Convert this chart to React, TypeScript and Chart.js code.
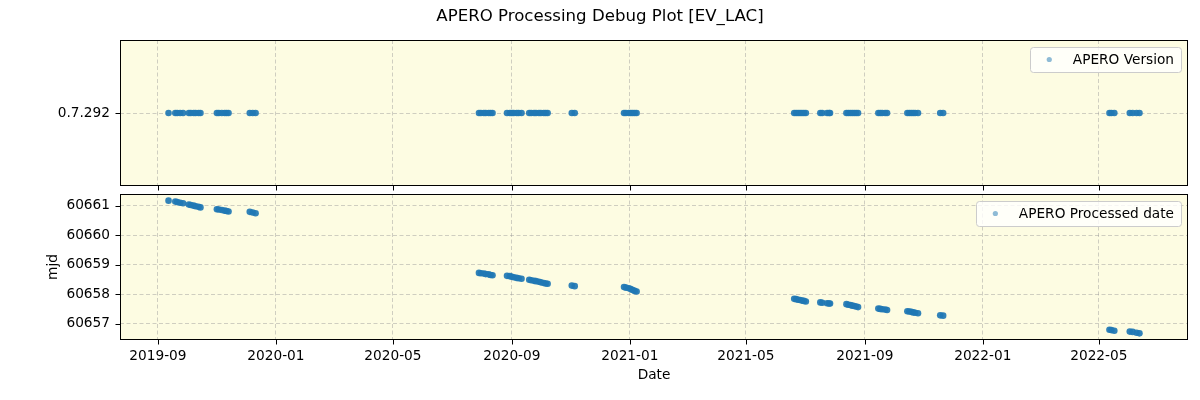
import React, { useEffect, useRef } from 'react';
import { Chart, registerables } from 'chart.js';

Chart.register(...registerables);

// ---------------- data ----------------
const obsDates = [
  '2019-09-12', '2019-09-19', '2019-09-21', '2019-09-24', '2019-09-27',
  '2019-10-03', '2019-10-05', '2019-10-08', '2019-10-10', '2019-10-13', '2019-10-15',
  '2019-11-01', '2019-11-03', '2019-11-06', '2019-11-09', '2019-11-11', '2019-11-13',
  '2019-12-05', '2019-12-08', '2019-12-11',
  '2020-07-29', '2020-07-31', '2020-08-03', '2020-08-05', '2020-08-08', '2020-08-10', '2020-08-12',
  '2020-08-27', '2020-08-30', '2020-09-01', '2020-09-03', '2020-09-06', '2020-09-08', '2020-09-11',
  '2020-09-19', '2020-09-21', '2020-09-24', '2020-09-26', '2020-09-29', '2020-10-01', '2020-10-04', '2020-10-06', '2020-10-08',
  '2020-11-02', '2020-11-05',
  '2020-12-26', '2020-12-28', '2020-12-31', '2021-01-02', '2021-01-04', '2021-01-06', '2021-01-08',
  '2021-06-20', '2021-06-22', '2021-06-24', '2021-06-26', '2021-06-28', '2021-06-30', '2021-07-02',
  '2021-07-17', '2021-07-19', '2021-07-24', '2021-07-26', '2021-07-27',
  '2021-08-13', '2021-08-15', '2021-08-17', '2021-08-19', '2021-08-21', '2021-08-23', '2021-08-25',
  '2021-09-15', '2021-09-17', '2021-09-19', '2021-09-22', '2021-09-24',
  '2021-10-15', '2021-10-17', '2021-10-19', '2021-10-21', '2021-10-23', '2021-10-26',
  '2021-11-18', '2021-11-21',
  '2022-05-12', '2022-05-14', '2022-05-17',
  '2022-06-02', '2022-06-05', '2022-06-09', '2022-06-12',
];

const mjdValues = [
  60661.17, 60661.14, 60661.12, 60661.10, 60661.08,
  60661.04, 60661.02, 60661.00, 60660.98, 60660.96, 60660.94,
  60660.88, 60660.87, 60660.85, 60660.83, 60660.82, 60660.80,
  60660.79, 60660.77, 60660.74,
  60658.72, 60658.71, 60658.70, 60658.68, 60658.67, 60658.65, 60658.64,
  60658.62, 60658.61, 60658.59, 60658.57, 60658.55, 60658.54, 60658.52,
  60658.49, 60658.47, 60658.45, 60658.44, 60658.42, 60658.40, 60658.38, 60658.36, 60658.35,
  60658.29, 60658.27,
  60658.24, 60658.22, 60658.20, 60658.17, 60658.14, 60658.11, 60658.09,
  60657.84, 60657.83, 60657.81, 60657.80, 60657.78, 60657.77, 60657.75,
  60657.72, 60657.71, 60657.69, 60657.68, 60657.68,
  60657.66, 60657.64, 60657.63, 60657.61, 60657.60, 60657.58, 60657.56,
  60657.51, 60657.50, 60657.49, 60657.48, 60657.46,
  60657.42, 60657.41, 60657.40, 60657.38, 60657.37, 60657.35,
  60657.28, 60657.27,
  60656.79, 60656.78, 60656.76,
  60656.73, 60656.72, 60656.69, 60656.67,
];

const versionCategories = ['0.7.292'];
const versionValues = obsDates.map(() => '0.7.292');

const xTickLabels = ['2019-09', '2020-01', '2020-05', '2020-09', '2021-01', '2021-05', '2021-09', '2022-01', '2022-05'];
const mjdTicks = [60657, 60658, 60659, 60660, 60661];

const TITLE = 'APERO Processing Debug Plot [EV_LAC]';
const TOP_LEGEND = 'APERO Version';
const BOTTOM_LEGEND = 'APERO Processed date';

// ---------------- styling ----------------
const FONT = '"DejaVu Sans"';
const TICK_SIZE = 13.7;
const BG = '#fdfce2';
const GRID = 'rgba(150,150,150,0.45)';
const POINT = 'rgba(31,119,180,0.92)';
const LEGEND_POINT = 'rgba(31,119,180,0.5)';

Chart.defaults.font.family = FONT;
Chart.defaults.color = '#000';

const times = obsDates.map((d) => Date.parse(d));
const tMin = Math.min(...times);
const tMax = Math.max(...times);
const tPad = (tMax - tMin) * 0.05;
const xTickValues = xTickLabels.map((l) => Date.parse(l + '-01'));

const yMinData = Math.min(...mjdValues);
const yMaxData = Math.max(...mjdValues);
const yPad = (yMaxData - yMinData) * 0.05;

function fmtMonth(v: number) {
  const d = new Date(v);
  return d.getUTCFullYear() + '-' + String(d.getUTCMonth() + 1).padStart(2, '0');
}

const mplPlugin = {
  id: 'mpl',
  beforeDraw(chart: any) {
    const { ctx, chartArea: a } = chart;
    ctx.save();
    ctx.fillStyle = BG;
    ctx.fillRect(a.left, a.top, a.right - a.left, a.bottom - a.top);
    ctx.restore();
  },
  afterDraw(chart: any, _args: any, opts: any) {
    const { ctx, chartArea: a } = chart;
    ctx.save();
    ctx.strokeStyle = '#000';
    ctx.lineWidth = 1;
    const L = Math.round(a.left) + 0.5;
    const R = Math.round(a.right) - 0.5;
    const T = Math.round(a.top) + 0.5;
    const B = Math.round(a.bottom) - 0.5;
    ctx.strokeRect(L, T, R - L, B - T);
    // tick marks
    const xs = chart.scales.x;
    ctx.beginPath();
    xs.ticks.forEach((_t: any, i: number) => {
      const px = Math.round(xs.getPixelForTick(i)) + 0.5;
      ctx.moveTo(px, B);
      ctx.lineTo(px, B + 5);
    });
    const ys = chart.scales.y;
    ys.ticks.forEach((_t: any, i: number) => {
      const py = Math.round(ys.getPixelForTick(i)) + 0.5;
      ctx.moveTo(L, py);
      ctx.lineTo(L - 5, py);
    });
    ctx.stroke();
    // legend
    const label = opts.label as string;
    ctx.font = `${TICK_SIZE}px ${FONT}`;
    const tw = ctx.measureText(label).width;
    const bw = 43 + tw + 7;
    const bh = 25;
    const bx = a.right - 7 - bw;
    const by = a.top + 7;
    ctx.beginPath();
    ctx.roundRect(Math.round(bx) + 0.5, Math.round(by) + 0.5, Math.round(bw), bh, 3);
    ctx.fillStyle = 'rgba(255,255,255,0.8)';
    ctx.fill();
    ctx.strokeStyle = '#cccccc';
    ctx.stroke();
    ctx.beginPath();
    ctx.arc(bx + 19.5, by + 12.5, 2.6, 0, Math.PI * 2);
    ctx.fillStyle = LEGEND_POINT;
    ctx.fill();
    ctx.fillStyle = '#000';
    ctx.textBaseline = 'middle';
    ctx.textAlign = 'left';
    ctx.fillText(label, bx + 43, by + 13);
    ctx.restore();
  },
};

function xScale(showLabels: boolean, height: number) {
  return {
    type: 'linear',
    min: tMin - tPad,
    max: tMax + tPad,
    afterBuildTicks: (s: any) => {
      s.ticks = xTickValues.map((v) => ({ value: v }));
    },
    afterFit: (s: any) => {
      s.height = height;
      s.paddingLeft = 0;
      s.paddingRight = 0;
      s.paddingTop = 0;
      s.paddingBottom = 0;
    },
    grid: { color: GRID, lineWidth: 1, drawTicks: false, drawOnChartArea: true },
    border: { display: false, dash: [4, 2.5] },
    ticks: {
      padding: 8,
      maxRotation: 0,
      autoSkip: false,
      font: { size: TICK_SIZE },
      color: '#000',
      callback: (v: any) => (showLabels ? fmtMonth(Number(v)) : ''),
    },
    title: showLabels
      ? { display: true, text: 'Date', font: { size: TICK_SIZE }, color: '#000', padding: { top: 0, bottom: 16 } }
      : { display: false },
  };
}

function yFit(s: any) {
  s.width = 120;
  s.paddingTop = 0;
  s.paddingBottom = 0;
  s.paddingLeft = 0;
  s.paddingRight = 0;
}

export default function App() {
  const topRef = useRef<HTMLCanvasElement>(null);
  const botRef = useRef<HTMLCanvasElement>(null);

  useEffect(() => {
    const topChart = new Chart(topRef.current as HTMLCanvasElement, {
      type: 'scatter',
      data: {
        datasets: [
          {
            label: TOP_LEGEND,
            data: times.map((t, i) => ({ x: t, y: versionValues[i] })) as any,
            pointRadius: 3.3,
            pointBorderWidth: 0,
            pointBackgroundColor: POINT,
            backgroundColor: POINT,
            borderColor: POINT,
          },
        ],
      },
      options: {
        responsive: false,
        animation: false,
        layout: { padding: { top: 40, left: 0, right: 12, bottom: 0 } },
        plugins: { legend: { display: false }, tooltip: { enabled: false }, mpl: { label: TOP_LEGEND } } as any,
        scales: {
          x: xScale(false, 8) as any,
          y: {
            type: 'category',
            labels: versionCategories,
            offset: true,
            afterFit: yFit,
            grid: { color: GRID, lineWidth: 1, drawTicks: false, offset: false },
            border: { display: false, dash: [4, 2.5] },
            ticks: { padding: 10, font: { size: TICK_SIZE }, color: '#000' },
          } as any,
        },
      },
      plugins: [mplPlugin],
    });

    const botChart = new Chart(botRef.current as HTMLCanvasElement, {
      type: 'scatter',
      data: {
        datasets: [
          {
            label: BOTTOM_LEGEND,
            data: times.map((t, i) => ({ x: t, y: mjdValues[i] })),
            pointRadius: 3.3,
            pointBorderWidth: 0,
            pointBackgroundColor: POINT,
            backgroundColor: POINT,
            borderColor: POINT,
          },
        ],
      },
      options: {
        responsive: false,
        animation: false,
        layout: { padding: { top: 4, left: 0, right: 12, bottom: 0 } },
        plugins: { legend: { display: false }, tooltip: { enabled: false }, mpl: { label: BOTTOM_LEGEND } } as any,
        scales: {
          x: xScale(true, 60) as any,
          y: {
            type: 'linear',
            min: yMinData - yPad,
            max: yMaxData + yPad,
            afterBuildTicks: (s: any) => {
              s.ticks = mjdTicks.map((v) => ({ value: v }));
            },
            afterFit: yFit,
            grid: { color: GRID, lineWidth: 1, drawTicks: false },
            border: { display: false, dash: [4, 2.5] },
            ticks: {
              padding: 10,
              font: { size: TICK_SIZE },
              color: '#000',
              callback: (v: any) => String(v),
            },
            title: {
              display: true,
              text: 'mjd',
              font: { size: TICK_SIZE },
              color: '#000',
              padding: { top: 45, bottom: 0 },
            },
          } as any,
        },
      },
      plugins: [mplPlugin],
    });

    return () => {
      topChart.destroy();
      botChart.destroy();
    };
  }, []);

  return (
    <div
      style={{
        position: 'absolute',
        left: 0,
        top: 0,
        width: 1200,
        height: 400,
        background: '#fff',
        overflow: 'hidden',
      }}
    >
      <canvas ref={topRef} width={1200} height={194} style={{ position: 'absolute', left: 0, top: 0, display: 'block' }} />
      <canvas ref={botRef} width={1200} height={210} style={{ position: 'absolute', left: 0, top: 190, display: 'block' }} />
      <div
        style={{
          position: 'absolute',
          left: 0,
          top: 0,
          width: 1200,
          height: 32,
          lineHeight: '32px',
          textAlign: 'center',
          fontFamily: FONT,
          fontSize: 16.6,
          color: '#000',
        }}
      >
        {TITLE}
      </div>
    </div>
  );
}
